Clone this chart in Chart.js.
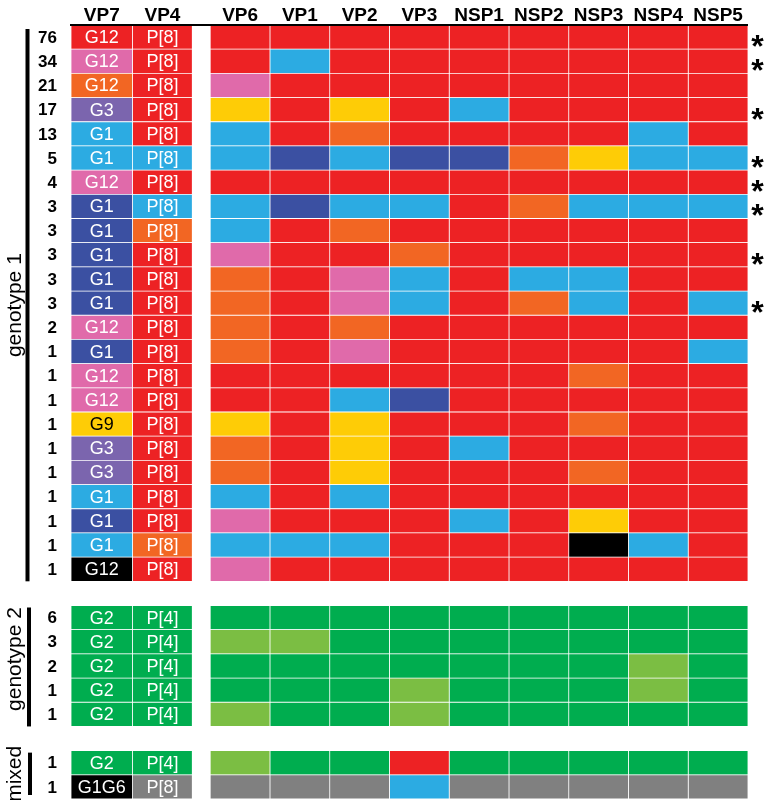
<!DOCTYPE html>
<html><head><meta charset="utf-8">
<script src="https://cdn.jsdelivr.net/npm/chart.js@4"></script>
<style>html,body{margin:0;padding:0;background:#fff}canvas{display:block}</style>
</head><body>
<canvas id="c" width="766" height="800"></canvas>
<script>
// Gene segments (columns)
const segments = ['VP7','VP4','VP6','VP1','VP2','VP3','NSP1','NSP2','NSP3','NSP4','NSP5'];

// Colour codes: R red, K pink, O orange, U purple, B light blue, D dark blue,
// Y yellow, X black, G green, L light green, Z grey
const genotype1Counts = ['76','34','21','17','13','5','4','3','3','3','3','3','2','1','1','1','1','1','1','1','1','1','1'];
const genotype1Rows = [
  'RRRRRRRRRRR','KRRBRRRRRRR','ORKRRRRRRRR','URYRYRBRRRR','BRBRORRRRBR',
  'BBBDBDDOYBB','KRRRRRRRRRR','DBBDBBROBBB','DOBRORRRRRR','DRKRRORRRRR',
  'DRORKBRBBRR','DRORKBROBRB','KRORORRRRRR','DRORKRRRRRB','KRRRRRRRORR',
  'KRRRBDRRRRR','YRYRYRRRORR','URORYRBRRRR','URORYRRRORR','BRBRBRRRRRR',
  'DRKRRRBRYRR','BOBBBRRRXBR','XRKRRRRRRRR'
];
const genotype1VP7 = ['G12','G12','G12','G3','G1','G1','G12','G1','G1','G1','G1','G1','G12','G1','G12','G12','G9','G3','G3','G1','G1','G1','G12'];
const genotype1VP4 = Array(23).fill('P[8]');
const genotype1Starred = [true,true,false,true,false,true,true,true,false,true,false,true,false,false,false,false,false,false,false,false,false,false,false];

const genotype2Counts = ['6','3','2','1','1'];
const genotype2Rows = ['GGGGGGGGGGG','GGLLGGGGGGG','GGGGGGGGGLG','GGGGGLGGGLG','GGLGGLGGGGG'];
const genotype2VP7 = ['G2','G2','G2','G2','G2'];
const genotype2VP4 = ['P[4]','P[4]','P[4]','P[4]','P[4]'];

const mixedCounts = ['1','1'];
const mixedRows = ['GGLGGRGGGGG','XZZZZBZZZZZ'];
const mixedVP7 = ['G2','G1G6'];
const mixedVP4 = ['P[4]','P[8]'];

const groupNames = ['genotype 1','genotype 2','mixed'];

const palette = {
  R:'#ED2224', K:'#E06AAA', O:'#F26623', U:'#7B65AE', B:'#2CABE2', D:'#3B50A2',
  Y:'#FECC06', X:'#000000', G:'#00AD4F', L:'#7BBE43', Z:'#808080'
};

// Build combined rows (with a blank spacer row between groups)
const rows = [], counts = [], vp7Text = [], vp4Text = [], starred = [], groupOf = [];
function addGroup(g, r, c, t7, t4, st) {
  r.forEach((code, i) => {
    rows.push(code); counts.push(c[i]); vp7Text.push(t7[i]); vp4Text.push(t4[i]);
    starred.push(st ? st[i] : false); groupOf.push(g);
  });
}
function addSpacer() { rows.push(null); counts.push(''); vp7Text.push(''); vp4Text.push(''); starred.push(false); groupOf.push(-1); }
addGroup(0, genotype1Rows, genotype1Counts, genotype1VP7, genotype1VP4, genotype1Starred);
addSpacer();
addGroup(1, genotype2Rows, genotype2Counts, genotype2VP7, genotype2VP4, null);
addSpacer();
addGroup(2, mixedRows, mixedCounts, mixedVP7, mixedVP4, null);

const colWidth = [1.03,1,1,1,1,1,1,1,1,1,1];
const gapWidth = 0.3;

const datasets = [];
segments.forEach((seg, j) => {
  datasets.push({
    label: seg, segIndex: j,
    data: rows.map(r => r ? colWidth[j] : null),
    backgroundColor: rows.map(r => r ? palette[r[j]] : 'rgba(0,0,0,0)'),
    borderColor: 'rgba(255,255,255,0.92)', borderWidth: 0.75, borderSkipped: false,
    barPercentage: 1, categoryPercentage: 1
  });
  if (j === 1) {
    datasets.push({
      label: '', segIndex: -1,
      data: rows.map(r => r ? gapWidth : null),
      backgroundColor: 'rgba(0,0,0,0)', borderWidth: 0,
      barPercentage: 1, categoryPercentage: 1
    });
  }
});
const total = colWidth.reduce((a,b)=>a+b,0) + gapWidth;

const FONT = 'Arial, "Liberation Sans", Helvetica, sans-serif';

const overlay = {
  id: 'overlay',
  afterDatasetsDraw(chart) {
    const ctx = chart.ctx, area = chart.chartArea;
    ctx.save();
    // headers and cell labels
    chart.data.datasets.forEach((ds, di) => {
      if (ds.segIndex < 0) return;
      const meta = chart.getDatasetMeta(di);
      const first = meta.data[0].getCenterPoint();
      ctx.fillStyle = '#000';
      ctx.font = 'bold 19px ' + FONT;
      ctx.textAlign = 'center'; ctx.textBaseline = 'alphabetic';
      ctx.fillText(ds.label, first.x, area.top - 4);
      if (ds.segIndex <= 1) {
        const texts = ds.segIndex === 0 ? vp7Text : vp4Text;
        ctx.font = '18px ' + FONT; ctx.textBaseline = 'middle';
        meta.data.forEach((el, i) => {
          if (!rows[i]) return;
          const p = el.getCenterPoint();
          ctx.fillStyle = rows[i][ds.segIndex] === 'Y' ? '#000' : '#fff';
          ctx.fillText(texts[i], p.x, p.y + 1);
        });
      }
    });
    // header underline
    ctx.strokeStyle = '#000'; ctx.lineWidth = 2;
    ctx.beginPath(); ctx.moveTo(area.left - 1, area.top); ctx.lineTo(area.right, area.top); ctx.stroke();

    const meta0 = chart.getDatasetMeta(0);
    // counts and asterisks
    rows.forEach((r, i) => {
      if (!r) return;
      const el = meta0.data[i];
      const y = el.y;
      ctx.fillStyle = '#000'; ctx.font = 'bold 17px ' + FONT;
      ctx.textAlign = 'right'; ctx.textBaseline = 'middle';
      ctx.fillText(counts[i], area.left - 14, y + 1);
      if (starred[i]) {
        ctx.font = 'bold 32px ' + FONT; ctx.textAlign = 'center'; ctx.textBaseline = 'alphabetic';
        const m = ctx.measureText('*');
        const target = y + 4;
        const baseline = target - (m.actualBoundingBoxDescent - m.actualBoundingBoxAscent) / 2;
        ctx.fillText('*', area.right + 9.5, baseline);
      }
    });
    // group bars and labels
    const barX = [27.5, 29, 30];
    const labelOffset = [0, -8, 0];
    groupNames.forEach((name, g) => {
      const idx = groupOf.map((v, i) => v === g ? i : -1).filter(v => v >= 0);
      const a = meta0.data[idx[0]], b = meta0.data[idx[idx.length - 1]];
      const top = a.y - a.height / 2 + (g === 0 ? 4 : 2);
      const bot = b.y + b.height / 2 - (g === 2 ? 4 : 0);
      ctx.fillStyle = '#000';
      ctx.fillRect(barX[g] - 2, top, 4, bot - top);
      ctx.save();
      ctx.translate(15, (top + bot) / 2 + labelOffset[g]);
      ctx.rotate(-Math.PI / 2);
      ctx.font = '21px ' + FONT; ctx.textAlign = 'center'; ctx.textBaseline = 'middle';
      ctx.fillText(name, 0, 0);
      ctx.restore();
    });
    ctx.restore();
  }
};

new Chart(document.getElementById('c'), {
  type: 'bar',
  data: { labels: rows.map((r, i) => String(i)), datasets },
  options: {
    indexAxis: 'y', responsive: false, animation: false, devicePixelRatio: 1,
    layout: { padding: { left: 71, right: 18, top: 25, bottom: 1 } },
    plugins: { legend: { display: false }, tooltip: { enabled: false } },
    scales: {
      x: { stacked: true, min: 0, max: total, display: false },
      y: { stacked: true, display: false }
    }
  },
  plugins: [overlay]
});
</script>
</body></html>
